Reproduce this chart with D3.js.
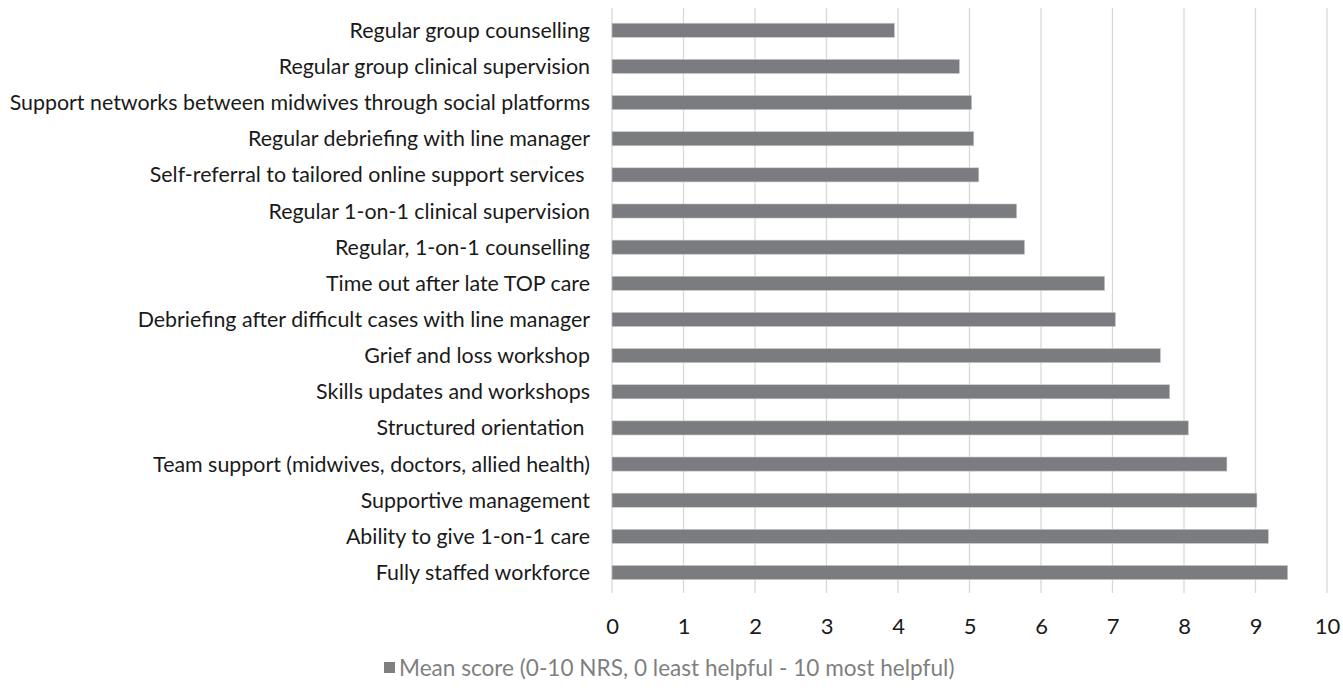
<!DOCTYPE html>
<html>
<head>
<meta charset="utf-8">
<script src="https://cdn.jsdelivr.net/npm/d3@7.9.0/dist/d3.min.js"></script>
<style>
  body { margin: 0; background: #fff; }
  svg { display: block; font-family: Lato, "Open Sans", sans-serif; }
</style>
</head>
<body>
<svg id="chart" width="1343" height="692"></svg>
<script>
const categories = [
  'Regular group counselling',
  'Regular group clinical supervision',
  'Support networks between midwives through social platforms',
  'Regular debriefing with line manager',
  'Self-referral to tailored online support services ',
  'Regular 1-on-1 clinical supervision',
  'Regular, 1-on-1 counselling',
  'Time out after late TOP care',
  'Debriefing after difficult cases with line manager',
  'Grief and loss workshop',
  'Skills updates and workshops',
  'Structured orientation ',
  'Team support (midwives, doctors, allied health)',
  'Supportive management',
  'Ability to give 1-on-1 care',
  'Fully staffed workforce'
];
const meanScores = [3.95, 4.86, 5.03, 5.06, 5.13, 5.66, 5.77, 6.89, 7.04, 7.67, 7.80, 8.06, 8.60, 9.02, 9.18, 9.45];
const xTicks = [0, 1, 2, 3, 4, 5, 6, 7, 8, 9, 10];
const legendLabel = 'Mean score (0-10 NRS, 0 least helpful - 10 most helpful)';

const svg = d3.select('#chart');
const barColor = '#7b7c80';

const x = d3.scaleLinear().domain([0, 10]).range([612, 1327]);
const y = d3.scaleBand().domain(categories).range([12.2, 590.6]).paddingInner(0.61).paddingOuter(0.305);

// vertical gridlines
svg.append('g')
  .selectAll('line')
  .data(xTicks)
  .join('line')
  .attr('x1', d => x(d)).attr('x2', d => x(d))
  .attr('y1', 8).attr('y2', 593)
  .attr('stroke', '#d9d9d9')
  .attr('stroke-width', 1.3);

// bars
svg.append('g')
  .selectAll('rect')
  .data(meanScores)
  .join('rect')
  .attr('x', x(0))
  .attr('y', (d, i) => y(categories[i]))
  .attr('width', d => x(d) - x(0))
  .attr('height', y.bandwidth())
  .attr('fill', barColor)
  .attr('stroke', '#c8c8ca')
  .attr('stroke-width', 0.6);

// category labels
svg.append('g')
  .selectAll('text')
  .data(categories)
  .join('text')
  .attr('x', 590)
  .attr('y', d => y(d) + y.bandwidth() / 2)
  .attr('dy', '0.35em')
  .attr('text-anchor', 'end')
  .attr('font-size', 21.4)
  .attr('fill', '#1a1a1a')
  .style('white-space', 'pre')
  .text(d => d);

// x axis tick labels
const xAxis = d3.axisBottom(x).tickValues(xTicks).tickSize(0).tickPadding(0);
const gx = svg.append('g').attr('transform', 'translate(0,618)').call(xAxis);
gx.select('.domain').remove();
gx.selectAll('text')
  .attr('font-size', 22)
  .attr('font-family', 'Lato, "Open Sans", sans-serif')
  .attr('fill', '#1a1a1a');

// legend
const leg = svg.append('g').attr('transform', 'translate(384,662)');
leg.append('rect').attr('width', 11).attr('height', 11).attr('fill', '#7f7f7f');
leg.append('text')
  .attr('x', 15).attr('y', 5.5).attr('dy', '0.36em')
  .attr('font-size', 22.6)
  .attr('fill', '#7f7f7f')
  .text(legendLabel);
</script>
</body>
</html>
